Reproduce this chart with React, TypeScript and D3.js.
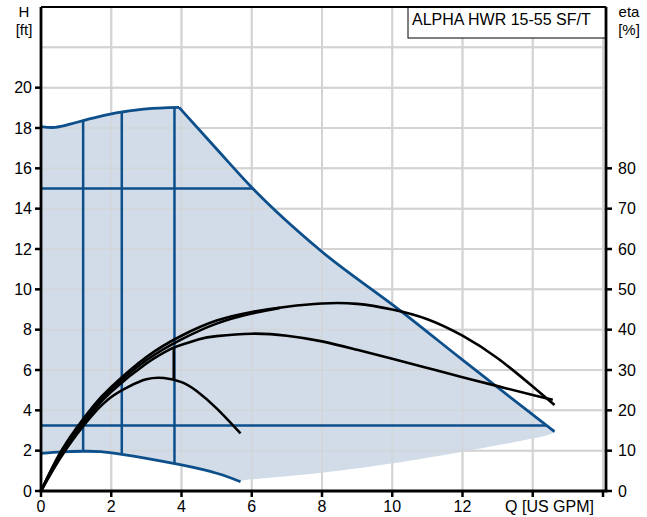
import React from "react";
import * as d3 from "d3";

// ---- data ----
const qTicks = [0, 2, 4, 6, 8, 10, 12, 14, 16];
const qLabels = [0, 2, 4, 6, 8, 10, 12];
const hTicks = [0, 2, 4, 6, 8, 10, 12, 14, 16, 18, 20];
const hGrid = [2, 4, 6, 8, 10, 12, 14, 16, 18, 20, 22];
const etaTicks = [0, 10, 20, 30, 40, 50, 60, 70, 80];

// max speed curve (Q [US GPM], H [ft])
const maxRise: [number, number][] = [
  [0, 18.07], [0.4, 18.03], [0.8, 18.18], [1.2, 18.37], [1.8, 18.63], [2.3, 18.79], [3.0, 18.95], [3.93, 19.02],
];
const maxFall: [number, number][] = [
  [3.93, 19.02], [5.0, 16.96], [6.03, 15.0], [7.94, 11.95], [10.21, 8.97], [12.0, 6.5], [14.62, 2.94],
];
// min speed curve
const minCurve: [number, number][] = [
  [0, 1.87], [0.6, 1.94], [1.2, 1.97], [1.7, 1.95], [2.3, 1.82], [3.0, 1.62], [4.0, 1.29], [5.0, 0.88], [5.68, 0.46],
];
// lower edge of operating area (no stroke)
const lowerEdge: [number, number][] = [
  [5.68, 0.46], [6.0, 0.58], [8.0, 0.91], [10.0, 1.37], [12.0, 1.95], [14.0, 2.6], [14.62, 2.9],
];
// constant pressure lines
const hLines = [
  { h: 15, q0: 0, q1: 6.03 },
  { h: 3.25, q0: 0, q1: 14.4 },
];
// constant curve lines
const vLines = [
  { q: 1.2, h0: 1.97, h1: 18.37 },
  { q: 2.3, h0: 1.82, h1: 18.79 },
  { q: 3.8, h0: 1.36, h1: 19.02 },
];

// efficiency curves (Q, eta %)
const etaA: [number, number][] = [
  [0, 0], [0.5, 8.75], [1, 15.5], [1.5, 21.2], [2, 25.8], [3, 33.2], [4, 38.5], [5, 42.25], [6, 44.4],
  [7, 45.7], [8, 46.5], [9, 46.4], [10, 45.0], [11, 42.6], [12, 38.5], [13, 32.9], [14, 25.9], [14.62, 21.3],
];
const etaD: [number, number][] = [
  [0, 0], [0.5, 8.5], [1, 15.0], [1.5, 20.6], [2, 25.2], [3, 32.4], [4, 37.6], [5, 41.5], [6, 44.0], [6.8, 45.4],
];
const etaC: [number, number][] = [
  [0, 0], [0.5, 8.25], [1, 14.6], [1.5, 20.0], [2, 24.6], [3, 31.6], [3.78, 35.6],
];
const etaBTail: [number, number][] = [
  [3.78, 35.6], [4.5, 37.6], [5, 38.4], [6, 39.0], [7, 38.5], [8, 37.1], [9, 35.0], [10, 32.8],
  [11, 30.5], [12, 28.2], [13, 26.0], [14, 23.8], [14.57, 22.6],
];
const etaE: [number, number][] = [
  [0, 0], [0.5, 7.5], [1, 13.8], [1.5, 19.2], [2, 23.3], [2.5, 25.9], [3, 27.7], [3.5, 28.0],
  [4.0, 27.0], [4.43, 24.8], [5.0, 20.5], [5.68, 14.3],
];
const etaDrop = { q: 3.78, e0: 35.6, e1: 27.6 };

const title = "ALPHA HWR 15-55 SF/T";

// ---- layout ----
const W = 647;
const H = 517;
const LEFT = 41;
const RIGHT = 606;
const TOP = 7;
const BOTTOM = 491;

const xS = d3.scaleLinear().domain([0, 16]).range([LEFT, 603]);
const yS = d3.scaleLinear().domain([0, 24]).range([BOTTOM, TOP]);
const eS = d3.scaleLinear().domain([0, 120]).range([BOTTOM, TOP]);

const BLUE = "#0d4f8b";
const FILL = "#d1dce8";
const GRID = "#d3d3d3";
const FONT = "'Liberation Sans', Arial, sans-serif";

const lineH = d3
  .line<[number, number]>()
  .x((d) => xS(d[0]))
  .y((d) => yS(d[1]))
  .curve(d3.curveNatural);
const lineHFall = d3
  .line<[number, number]>()
  .x((d) => xS(d[0]))
  .y((d) => yS(d[1]))
  .curve(d3.curveMonotoneX);
const lineE = d3
  .line<[number, number]>()
  .x((d) => xS(d[0]))
  .y((d) => eS(d[1]))
  .curve(d3.curveNatural);

const join = (s: string | null) => (s || "").replace(/^M/, "L");

export default function App() {
  const fillPath =
    (lineH(maxRise) || "") +
    join(lineHFall(maxFall)) +
    join(lineH([...lowerEdge].reverse())) +
    join(lineH([...minCurve].reverse())) +
    "Z";

  return (
    <svg
      width={W}
      height={H}
      style={{ position: "absolute", left: 0, top: 0, background: "#fff" }}
      fontFamily={FONT}
    >
      <rect x={0} y={0} width={W} height={H} fill="#fff" />
      {/* grid */}
      {qTicks.slice(1).map((q) => (
        <line key={"gx" + q} x1={xS(q)} x2={xS(q)} y1={TOP} y2={BOTTOM} stroke={GRID} strokeWidth={2} />
      ))}
      {hGrid.map((h) => (
        <line key={"gy" + h} x1={LEFT} x2={RIGHT} y1={yS(h)} y2={yS(h)} stroke={GRID} strokeWidth={2} />
      ))}

      {/* operating area */}
      <path d={fillPath} fill={FILL} stroke="none" />
      {qTicks.slice(1).map((q) => (
        <line key={"gx2" + q} x1={xS(q)} x2={xS(q)} y1={TOP} y2={BOTTOM} stroke={GRID} strokeWidth={2} opacity={0.55} />
      ))}
      {hGrid.map((h) => (
        <line key={"gy2" + h} x1={LEFT} x2={RIGHT} y1={yS(h)} y2={yS(h)} stroke={GRID} strokeWidth={2} opacity={0.55} />
      ))}

      {/* blue curves */}
      {hLines.map((l, i) => (
        <line key={"hl" + i} x1={xS(l.q0)} x2={xS(l.q1)} y1={yS(l.h)} y2={yS(l.h)} stroke={BLUE} strokeWidth={2.5} />
      ))}
      {vLines.map((l, i) => (
        <line key={"vl" + i} x1={xS(l.q)} x2={xS(l.q)} y1={yS(l.h0)} y2={yS(l.h1)} stroke={BLUE} strokeWidth={2.5} />
      ))}
      <path d={lineH(maxRise) || ""} fill="none" stroke={BLUE} strokeWidth={2.8} />
      <path d={lineHFall(maxFall) || ""} fill="none" stroke={BLUE} strokeWidth={2.8} strokeLinejoin="round" />
      <path d={lineH(minCurve) || ""} fill="none" stroke={BLUE} strokeWidth={2.8} />

      {/* efficiency curves */}
      {[etaA, etaD, etaC, etaBTail, etaE].map((c, i) => (
        <path key={"eta" + i} d={lineE(c) || ""} fill="none" stroke="#000" strokeWidth={2.6} />
      ))}
      <line
        x1={xS(etaDrop.q)}
        x2={xS(etaDrop.q)}
        y1={eS(etaDrop.e0)}
        y2={eS(etaDrop.e1)}
        stroke="#000"
        strokeWidth={2.6}
      />

      {/* title box */}
      <rect x={408} y={TOP} width={RIGHT - 408} height={31} fill="#fff" stroke="#000" strokeWidth={1} />
      <text x={412} y={25} fontSize={16} fill="#000">
        {title}
      </text>

      {/* frame / axes */}
      <line x1={LEFT} x2={RIGHT} y1={TOP} y2={TOP} stroke="#000" strokeWidth={2.2} />
      <line x1={LEFT} x2={LEFT} y1={TOP} y2={BOTTOM} stroke="#000" strokeWidth={2.8} />
      <line x1={RIGHT} x2={RIGHT} y1={TOP} y2={BOTTOM} stroke="#000" strokeWidth={2.8} />
      <line x1={LEFT - 1.4} x2={RIGHT + 1.4} y1={BOTTOM} y2={BOTTOM} stroke="#000" strokeWidth={2.8} />

      {/* left ticks */}
      {hTicks.map((h) => (
        <g key={"lt" + h}>
          <line x1={LEFT - 6} x2={LEFT} y1={yS(h)} y2={yS(h)} stroke="#000" strokeWidth={2.5} />
          <text x={LEFT - 9} y={yS(h)} dy="0.36em" textAnchor="end" fontSize={16} fill="#000">
            {h}
          </text>
        </g>
      ))}
      {/* right ticks */}
      {etaTicks.map((e) => (
        <g key={"rt" + e}>
          <line x1={RIGHT} x2={RIGHT + 6} y1={eS(e)} y2={eS(e)} stroke="#000" strokeWidth={2.5} />
          <text x={RIGHT + 12} y={eS(e)} dy="0.36em" textAnchor="start" fontSize={16} fill="#000">
            {e}
          </text>
        </g>
      ))}
      {/* bottom ticks */}
      {qTicks.map((q) => (
        <line key={"bt" + q} x1={xS(q)} x2={xS(q)} y1={BOTTOM} y2={BOTTOM + 6} stroke="#000" strokeWidth={2.5} />
      ))}
      {qLabels.map((q) => (
        <text key={"bl" + q} x={xS(q)} y={512} textAnchor="middle" fontSize={16} fill="#000">
          {q}
        </text>
      ))}

      {/* axis titles */}
      <text x={24} y={17} textAnchor="middle" fontSize={15} fill="#000">H</text>
      <text x={24} y={35} textAnchor="middle" fontSize={15} fill="#000">[ft]</text>
      <text x={629} y={17} textAnchor="middle" fontSize={15} fill="#000">eta</text>
      <text x={629} y={35} textAnchor="middle" fontSize={15} fill="#000">[%]</text>
      <text x={594} y={512} textAnchor="end" fontSize={16} fill="#000">Q [US GPM]</text>
    </svg>
  );
}
